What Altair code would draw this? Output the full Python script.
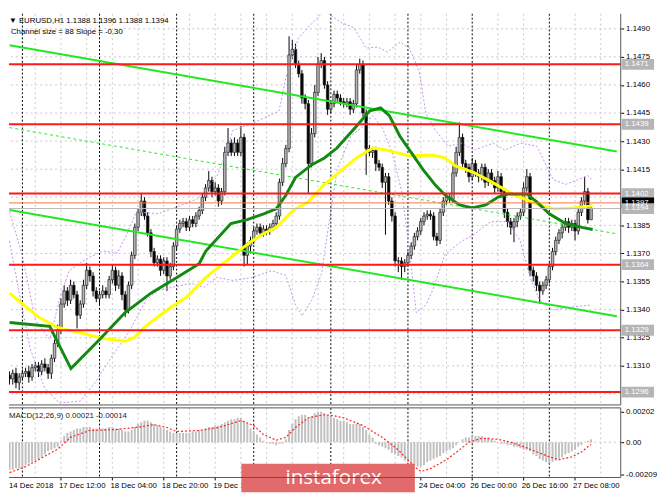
import altair as alt
import pandas as pd

FONT = "Liberation Sans"

# ---------------- price data (EURUSD H1, bar 0 = 14 Dec 20:00) ----------------
close = [
    1.1303, 1.1306, 1.1301, 1.1304, 1.1306, 1.1307, 1.1304, 1.1309, 1.1310, 1.1307,
    1.1311, 1.1309, 1.1306, 1.1314, 1.1322, 1.1329, 1.1343, 1.1350, 1.1345, 1.1353,
    1.1348, 1.1337, 1.1343, 1.1353, 1.1361, 1.1358, 1.1350, 1.1346, 1.1348, 1.1350,
    1.1348, 1.1356, 1.1361, 1.1353, 1.1358, 1.1348, 1.1340, 1.1353, 1.1369, 1.1384,
    1.1392, 1.1398, 1.1390, 1.1381, 1.1371, 1.1365, 1.1367, 1.1361, 1.1366, 1.1358,
    1.1363, 1.1374, 1.1383, 1.1386, 1.1387, 1.1384, 1.1388, 1.1386, 1.1390, 1.1393,
    1.1400, 1.1405, 1.1409, 1.1403, 1.1405, 1.1398, 1.1403, 1.1424, 1.1429, 1.1424,
    1.1429, 1.1424, 1.1432, 1.1369, 1.1374, 1.1377, 1.1382, 1.1384, 1.1381, 1.1383,
    1.1382, 1.1384, 1.1386, 1.1390, 1.1408, 1.1418, 1.1426, 1.1476, 1.1479, 1.1471,
    1.1466, 1.1453, 1.1450, 1.1418, 1.1434, 1.1456, 1.1471, 1.1473, 1.1460, 1.1447,
    1.1450, 1.1455, 1.1453, 1.1451, 1.1450, 1.1451, 1.1447, 1.1450, 1.1468, 1.1471,
    1.1445, 1.1426, 1.1424, 1.1425, 1.1418, 1.1416, 1.1408, 1.1411, 1.1398, 1.1390,
    1.1366, 1.1366, 1.1363, 1.1365, 1.1369, 1.1374, 1.1379, 1.1382, 1.1387, 1.1390,
    1.1391, 1.1390, 1.1379, 1.1377, 1.1392, 1.1398, 1.1400, 1.1399, 1.1413, 1.1424,
    1.1432, 1.1418, 1.1416, 1.1411, 1.1418, 1.1413, 1.1411, 1.1416, 1.1408, 1.1413,
    1.1409, 1.1405, 1.1411, 1.1403, 1.1392, 1.1387, 1.1384, 1.1387, 1.1390, 1.1392,
    1.1405, 1.1411, 1.1361, 1.1358, 1.1353, 1.1350, 1.1353, 1.1356, 1.1363, 1.1371,
    1.1377, 1.1381, 1.1384, 1.1387, 1.1384, 1.1386, 1.1382, 1.1392, 1.1398, 1.1403,
    1.1388, 1.1394,
]
first_open = 1.1305
# wick lengths above / below the candle body, in pips
wick_up = [
    2, 2, 3, 2, 2, 2, 3, 2, 2, 2,
    2, 3, 2, 2, 2, 3, 3, 3, 2, 3,
    2, 2, 2, 3, 4, 2, 2, 2, 2, 3,
    2, 2, 3, 2, 3, 2, 2, 2, 2, 2,
    2, 4, 2, 2, 2, 2, 2, 2, 2, 2,
    2, 2, 2, 2, 2, 2, 2, 2, 2, 2,
    2, 2, 5, 2, 3, 2, 2, 3, 8, 2,
    3, 2, 6, 2, 2, 2, 2, 2, 2, 2,
    2, 2, 2, 2, 2, 3, 2, 10, 5, 3,
    2, 2, 2, 2, 3, 4, 4, 4, 2, 2,
    2, 2, 2, 2, 2, 2, 2, 2, 3, 3,
    2, 2, 2, 2, 2, 2, 2, 2, 2, 2,
    2, 2, 2, 2, 2, 2, 2, 2, 2, 2,
    2, 2, 2, 2, 2, 2, 2, 2, 4, 3,
    8, 2, 2, 2, 3, 2, 2, 2, 2, 2,
    2, 2, 3, 2, 2, 2, 2, 2, 2, 2,
    3, 4, 2, 2, 2, 2, 2, 2, 2, 2,
    2, 2, 2, 2, 2, 2, 2, 3, 2, 8,
    2, 2,
]
wick_dn = [
    3, 3, 3, 4, 2, 2, 3, 2, 2, 3,
    2, 2, 3, 3, 2, 2, 2, 2, 3, 2,
    2, 7, 2, 2, 2, 3, 3, 2, 3, 2,
    2, 2, 2, 3, 2, 3, 4, 2, 2, 2,
    2, 2, 2, 2, 3, 2, 2, 3, 2, 8,
    2, 2, 2, 2, 2, 2, 2, 2, 2, 2,
    2, 2, 2, 3, 2, 3, 2, 2, 2, 2,
    2, 2, 2, 6, 5, 4, 2, 2, 2, 2,
    2, 2, 2, 2, 2, 2, 2, 2, 2, 2,
    2, 3, 3, 16, 2, 2, 2, 2, 2, 3,
    2, 2, 2, 2, 2, 2, 3, 2, 2, 2,
    2, 14, 2, 3, 4, 2, 3, 28, 2, 3,
    3, 6, 7, 3, 2, 2, 2, 2, 2, 2,
    2, 2, 2, 3, 2, 2, 2, 2, 2, 2,
    2, 3, 3, 3, 2, 2, 3, 2, 3, 2,
    2, 3, 2, 3, 3, 3, 4, 8, 3, 2,
    2, 2, 3, 3, 3, 7, 2, 2, 2, 2,
    2, 2, 3, 2, 3, 2, 5, 2, 2, 2,
    2, 0,
]

# moving averages (sampled vertices)
ma_green_bar = [0, 12.5, 19.1, 28.1, 35.9, 44.0, 52.1, 59.0, 61.1, 68.9, 74.0, 79.1, 83.0, 86.0,
                89.0, 94.1, 98.0, 101.9, 107.9, 112.1, 115.5, 118.2, 121.5, 124.5, 128.7, 132.6,
                135.6, 140.1, 144.0, 148.2, 152.1, 155.1, 161.1, 164.1, 168.0, 173.1, 178.2, 181.5]
ma_green_val = [1.13331, 1.13311, 1.13085, 1.13242, 1.13383, 1.13488, 1.13572, 1.13645, 1.13713,
                1.13860, 1.13881, 1.13912, 1.13938, 1.14011, 1.14106, 1.14174, 1.14210, 1.14263,
                1.14378, 1.14462, 1.14477, 1.14436, 1.14326, 1.14252, 1.14148, 1.14064, 1.14011,
                1.13959, 1.13943, 1.13959, 1.14001, 1.14017, 1.14017, 1.13975, 1.13912, 1.13860,
                1.13839, 1.13828]
ma_yellow_bar = [0, 8.9, 14.9, 29.0, 35.9, 38.9, 41.9, 49.1, 55.1, 61.1, 67.1, 71.0, 74.9, 79.1,
                 83.0, 88.1, 92.9, 98.0, 103.2, 107.9, 113.1, 117.6, 124.5, 131.7, 135.6, 138.6,
                 144.6, 149.7, 157.2, 165.0, 169.2, 175.2, 181.5]
ma_yellow_val = [1.13488, 1.13362, 1.13305, 1.13247, 1.13231, 1.13252, 1.13305, 1.13399, 1.13467,
                 1.13572, 1.13655, 1.13708, 1.13760, 1.13807, 1.13839, 1.13928, 1.13975, 1.14069,
                 1.14142, 1.14210, 1.14263, 1.14252, 1.14221, 1.14226, 1.14210, 1.14169, 1.14132,
                 1.14085, 1.14011, 1.13959, 1.13938, 1.13943, 1.13954]

# envelope bands (sampled vertices)
bb_up_bar = [0, 4, 8, 12.5, 15.5, 18.5, 23.9, 29, 33.5, 36.5, 39.5, 46.4, 53.6, 58.4, 64.4, 67.4,
             69.5, 75.5, 83.9, 86, 89.9, 94.1, 98, 103.2, 107.1, 111, 114.6, 117.6, 121.5, 124.5,
             127.5, 129.6, 132.6, 136.5, 140.7, 144.6, 150.6, 154.2, 159, 164.1, 169.2, 173.1,
             177, 180, 181.5]
bb_up_val = [1.13923, 1.13687, 1.13346, 1.13242, 1.13451, 1.13608, 1.13671, 1.13713, 1.13702,
             1.13802, 1.13922, 1.13912, 1.13959, 1.13991, 1.14106, 1.14237, 1.14357, 1.14394,
             1.14462, 1.14640, 1.14849, 1.14928, 1.14996, 1.14933, 1.14907, 1.14797, 1.14802,
             1.14776, 1.14828, 1.14797, 1.14671, 1.14446, 1.14357, 1.14273, 1.14289, 1.14252,
             1.14289, 1.14252, 1.14289, 1.14273, 1.14095, 1.14069, 1.14095, 1.14116, 1.14090]
bb_lo_bar = [0, 3.45, 6.46, 10.96, 15.47, 22.07, 26.88, 31.98, 37.09, 42.49, 46.4, 56.6, 60.5,
             64.4, 69.5, 75.5, 81.5, 86.0, 89.0, 91.1, 94.1, 97.1, 98.9, 101.95, 106.2, 110.05,
             113.1, 116.1, 119.1, 122.1, 124.5, 126.6, 129.6, 131.7, 135.6, 140.7, 144.6, 149.7,
             155.1, 159.0, 162.0, 165.0, 169.2, 175.2, 181.2]
bb_lo_val = [1.13765, 1.13451, 1.13190, 1.12980, 1.12901, 1.12912, 1.13017, 1.13153, 1.13278,
             1.13451, 1.13504, 1.13540, 1.13519, 1.13572, 1.13556, 1.13572, 1.13608, 1.13582,
             1.13425, 1.13367, 1.13451, 1.13593, 1.13802, 1.14148, 1.14326, 1.14378, 1.14436,
             1.14368, 1.14237, 1.14027, 1.13713, 1.13383, 1.13425, 1.13504, 1.13697, 1.13765,
             1.13802, 1.13870, 1.13870, 1.13765, 1.13572, 1.13451, 1.13399, 1.13415, 1.13425]

# regression channel (size 88 pips, slope -0.30)
channel_bar = [0, 189]
channel_upper = [1.14812, 1.14245]
channel_mid = [1.14372, 1.13805]
channel_lower = [1.13932, 1.13365]
channel_size = 88
channel_slope = -0.30

red_levels = [1.1471, 1.1439, 1.1402, 1.1364, 1.1329, 1.1296]
orange_level = 1.1397
bid_level = 1.1394

price_ticks = [1.1310, 1.1325, 1.1340, 1.1355, 1.1370, 1.1385, 1.1415, 1.1430, 1.1445,
               1.1460, 1.1475, 1.1490]
grid_prices = [1.1295, 1.1310, 1.1325, 1.1340, 1.1355, 1.1370, 1.1385, 1.1400, 1.1415,
               1.1430, 1.1445, 1.1460, 1.1475, 1.1490]
day_starts = [4, 28, 52, 76, 100, 124, 144, 168]
grid_bars = [8, 16, 24, 32, 40, 48, 56, 64, 72, 80, 88, 96, 104, 112, 120, 128, 136,
             152, 160, 176, 184]
time_bars = [0, 16, 32, 48, 64, 80, 96, 112, 128, 144, 160, 176]
time_labels = ["14 Dec 2018", "17 Dec 12:00", "18 Dec 04:00", "18 Dec 20:00", "19 Dec 12:00",
               "20 Dec 04:00", "20 Dec 20:00", "21 Dec 12:00", "24 Dec 04:00", "26 Dec 00:00",
               "26 Dec 16:00", "27 Dec 08:00"]

# MACD(12,26,9): main histogram (units of 0.0001) and signal line vertices
macd_hist = [
    -18, -18, -17, -17, -17, -15, -14, -13, -12, -11, -10, -8, -6, -5, -4, -3,
    1, 4, 6, 7, 8, 9, 9, 10, 10,
    10, 9, 9, 9, 9, 9, 10, 10, 9, 9, 8, 7, 7, 8, 10,
    12, 13, 14, 14, 13,
    12, 11, 10, 9, 8, 7, 6, 6,
    6, 6, 6, 6,
    7, 7, 8, 8, 9, 10, 10, 11, 11, 12, 13, 14, 15, 15,
    16, 16, 14,
    12, 9, 7, 5, 3, 1, 0,
    -1, -1, -2, -1, -1, 2,
    8, 12, 15, 17, 18, 18, 16, 17, 19, 20, 20, 19,
    18, 17, 16, 15, 14, 14, 13, 12, 12, 12, 12, 10,
    8, 5, 3, -1, -2, -3, -4, -5, -7, -8, -9, -10, -12, -13, -14, -15, -16,
    -16, -15, -13, -12, -11, -10, -9, -7, -6, -5, -4, -2, 0,
    2, 3, 3, 4, 4, 4, 4, 3, 3, 2, 1, 0,
    -1, -1, -2, -2, -3, -3, -4, -5, -5, -6, -8, -9, -11, -12, -13, -14,
    -13, -12, -11, -10, -8, -7, -6, -5, -3, -2, 0, 1, 2,
]
sig_bar = [0, 5, 9.5, 15, 19, 25, 33, 39, 45, 49, 52, 59, 65, 72, 76, 79, 83, 86, 89, 93, 98,
           101, 104, 110, 116, 121, 126, 128, 131, 136, 140, 143, 147, 152, 156, 162, 168, 171,
           175, 178, 181]
sig_val = [-0.00199, -0.00160, -0.00109, -0.00045, 0.00032, 0.00077, 0.00083, 0.00096, 0.00115,
           0.00096, 0.00070, 0.00077, 0.00096, 0.00141, 0.00109, 0.00051, 0.00013, 0.00032,
           0.00096, 0.00160, 0.00180, 0.00173, 0.00160, 0.00109, 0.00032, -0.00051, -0.00160,
           -0.00192, -0.00173, -0.00115, -0.00051, 0.0, 0.00026, 0.00019, 0.0, -0.00045,
           -0.00096, -0.00115, -0.00096, -0.00064, -0.00014]
macd_last = 0.00021
signal_last = -0.00014

# ---------------- tables ----------------
n = len(close)
bars = list(range(n))
opens = [first_open] + close[:-1]
highs = [max(o, c) + u / 10000 for o, c, u in zip(opens, close, wick_up)]
lows = [min(o, c) - d / 10000 for o, c, d in zip(opens, close, wick_dn)]
candles = pd.DataFrame({"bar": bars, "open": opens, "close": close, "high": highs, "low": lows})
candles["dir"] = ["up" if c >= o else "down" for o, c in zip(opens, close)]

W, H1, H2 = 624, 399, 71
xs = alt.Scale(domain=[1.35, 188.7], nice=False, zero=False)
ys = alt.Scale(domain=[1.12891, 1.14980], nice=False, zero=False)
ms = alt.Scale(domain=[-0.002312, 0.002248], nice=False, zero=False)
X = alt.X("bar:Q", scale=xs, axis=None)

AXY = alt.Axis(orient="right", values=price_ticks, format=".4f", labelFont=FONT, labelFontSize=8,
               labelColor="#000000", tickColor="#000000", tickSize=3, domain=False, grid=False,
               labelPadding=2, title=None)
AXM = alt.Axis(orient="right", values=[0.00202, 0, -0.00209], labelFont=FONT, labelFontSize=8,
               labelColor="#000000", tickColor="#000000", tickSize=3, domain=False, grid=False,
               labelPadding=2, title=None,
               labelExpr="datum.value == 0 ? '0.00' : (datum.value < 0 ? '-' + format(-datum.value, '.5f') : format(datum.value, '.5f'))")


def YP(field):
    return alt.Y(field, type="quantitative", scale=ys, axis=AXY)


def YM(field):
    return alt.Y(field, type="quantitative", scale=ms, axis=AXM)


def line_layer(bx, vals, color, width, dash=None):
    df = pd.DataFrame({"bar": bx, "v": vals})
    kw = dict(color=color, strokeWidth=width, clip=True)
    if dash:
        kw["strokeDash"] = dash
    return alt.Chart(df).mark_line(**kw).encode(x=X, y=YP("v"))


hgrid = alt.Chart(pd.DataFrame({"price": grid_prices})).mark_rule(
    color="#c8c8c8", strokeDash=[2, 3], strokeWidth=1).encode(y=YP("price"))
vgrid = alt.Chart(pd.DataFrame({"bar": grid_bars})).mark_rule(
    color="#c8c8c8", strokeDash=[2, 3], strokeWidth=1).encode(x=X)
dayline = alt.Chart(pd.DataFrame({"bar": day_starts})).mark_rule(
    color="#000000", strokeDash=[2, 2], strokeWidth=1).encode(x=X)

wicks = alt.Chart(candles).mark_rule(color="#000000", strokeWidth=1, clip=True).encode(
    x=X, y=YP("low"), y2="high:Q")
bodies = alt.Chart(candles).mark_bar(width=2.6, stroke="#222222", strokeWidth=0.7, clip=True).encode(
    x=X, y=YP("open"), y2="close:Q",
    color=alt.Color("dir:N", scale=alt.Scale(domain=["up", "down"], range=["#b5b5b5", "#000000"]),
                    legend=None))

bb_up = line_layer(bb_up_bar, bb_up_val, "#c58cf0", 1, [2, 2])
bb_lo = line_layer(bb_lo_bar, bb_lo_val, "#c58cf0", 1, [2, 2])
ch_up = line_layer(channel_bar, channel_upper, "#22e822", 2)
ch_mid = line_layer(channel_bar, channel_mid, "#22e822", 1, [3, 3])
ch_lo = line_layer(channel_bar, channel_lower, "#22e822", 2)
ma_y = line_layer(ma_yellow_bar, ma_yellow_val, "#ffff00", 3)
ma_g = line_layer(ma_green_bar, ma_green_val, "#128a12", 3)

red_rules = alt.Chart(pd.DataFrame({"price": red_levels})).mark_rule(
    color="#ff1a1a", strokeWidth=2).encode(y=YP("price"))
orange_rule = alt.Chart(pd.DataFrame({"price": [orange_level]})).mark_rule(
    color="#ff7040", strokeWidth=1).encode(y=YP("price"))
bid_rule = alt.Chart(pd.DataFrame({"price": [bid_level]})).mark_rule(
    color="#b8b8b8", strokeWidth=1).encode(y=YP("price"))

levels = pd.DataFrame({"price": red_levels + [orange_level, bid_level],
                       "kind": ["red"] * len(red_levels) + ["orange", "bid"]})
lev_box = alt.Chart(levels).mark_rect(yOffset=-5.5, y2Offset=5.5).encode(
    x=alt.value(W + 1), x2=alt.value(W + 34),
    y=YP("price"), y2="price:Q",
    color=alt.Color("kind:N", scale=alt.Scale(domain=["red", "orange", "bid"],
                                              range=["#ff1a1a", "#ff6a2a", "#000000"]),
                    legend=None))
lev_txt = alt.Chart(levels).mark_text(align="left", baseline="middle", font=FONT, fontSize=8,
                                      color="#ffffff").encode(
    x=alt.value(W + 4), y=YP("price"),
    text=alt.Text("price:Q", format=".4f"))

last = candles.iloc[-1]
header = f"▼ EURUSD,H1  {last['open']:.4f} {last['high']:.4f} {last['low']:.4f} {last['close']:.4f}"
sub = f"Channel size = {channel_size} Slope = {channel_slope:.2f}"
head = alt.Chart(pd.DataFrame({"t": [header, sub], "yy": [9, 21], "xx": [0, 2]})).mark_text(
    align="left", baseline="alphabetic", font=FONT, fontSize=8, color="#000000").encode(
    x=alt.X("xx:Q", scale=None), y=alt.Y("yy:Q", scale=None), text="t:N")

border_main = alt.Chart(pd.DataFrame({"k": [0]})).mark_rule(color="#555555", strokeWidth=1).encode(
    x=alt.value(W), y=alt.value(0), y2=alt.value(H1))
border_main_b = alt.Chart(pd.DataFrame({"k": [0]})).mark_rule(color="#555555", strokeWidth=1).encode(
    x=alt.value(0), x2=alt.value(W), y=alt.value(H1))

main = alt.layer(
    hgrid, vgrid, dayline, wicks, bodies, bb_up, bb_lo, ch_mid, ch_up, ch_lo, ma_y, ma_g,
    bid_rule, orange_rule, red_rules, lev_box, lev_txt, head, border_main, border_main_b
).properties(width=W, height=H1)

# ---------------- MACD panel ----------------
hist = pd.DataFrame({"bar": bars, "v": [h / 10000 for h in macd_hist]})
zero = alt.Chart(pd.DataFrame({"v": [0.0]})).mark_rule(
    color="#c8c8c8", strokeDash=[2, 3]).encode(y=YM("v"))
vgrid2 = alt.Chart(pd.DataFrame({"bar": grid_bars})).mark_rule(
    color="#c8c8c8", strokeDash=[2, 3], strokeWidth=1).encode(x=X)
dayline2 = alt.Chart(pd.DataFrame({"bar": day_starts})).mark_rule(
    color="#000000", strokeDash=[2, 2], strokeWidth=1).encode(x=X)
histc = alt.Chart(hist).mark_bar(width=2, color="#c0c0c0", clip=True).encode(
    x=X, y=YM("v"), y2=alt.datum(0))
sig = alt.Chart(pd.DataFrame({"bar": sig_bar, "v": sig_val})).mark_line(
    color="#ff2020", strokeDash=[2, 2], strokeWidth=1.2, clip=True).encode(
    x=X, y=YM("v"))
macd_title = f"MACD(12,26,9) {macd_last:.5f} {signal_last:.5f}"
mtxt = alt.Chart(pd.DataFrame({"t": [macd_title]})).mark_text(
    align="left", baseline="middle", font=FONT, fontSize=8, color="#222222").encode(
    x=alt.value(0), y=alt.value(8), text="t:N")

tl = pd.DataFrame({"bar": time_bars, "label": time_labels})
tl_first = tl.iloc[:1]
tl_rest = tl.iloc[1:]
tticks = alt.Chart(tl_rest).mark_rule(color="#000000").encode(
    x=X, y=alt.value(H2), y2=alt.value(H2 + 3))
ttext = alt.Chart(tl_rest).mark_text(align="left", baseline="middle", font=FONT, fontSize=8,
                                      dx=-2, color="#000000").encode(
    x=X, y=alt.value(H2 + 9), text="label:N")
ttext0 = alt.Chart(tl_first).mark_text(align="left", baseline="middle", font=FONT, fontSize=8,
                                        color="#000000").encode(
    x=alt.value(0), y=alt.value(H2 + 9), text="label:N")

wm_box = alt.Chart(pd.DataFrame({"k": [0]})).mark_rect(color="#e36a6a").encode(
    x=alt.value(237), x2=alt.value(414), y=alt.value(57), y2=alt.value(86))
wm_txt = alt.Chart(pd.DataFrame({"t": ["instaforex"]})).mark_text(
    align="left", baseline="middle", font="Open Sans", fontSize=21, color="#ffffff").encode(
    x=alt.value(282), y=alt.value(72), text="t:N")

border_m = alt.Chart(pd.DataFrame({"k": [0]})).mark_rule(color="#555555", strokeWidth=1).encode(
    x=alt.value(W), y=alt.value(0), y2=alt.value(H2))
border_m_t = alt.Chart(pd.DataFrame({"k": [0]})).mark_rule(color="#555555", strokeWidth=1).encode(
    x=alt.value(0), x2=alt.value(W), y=alt.value(0))
border_m_b = alt.Chart(pd.DataFrame({"k": [0]})).mark_rule(color="#555555", strokeWidth=1).encode(
    x=alt.value(0), x2=alt.value(W), y=alt.value(H2))

macd = alt.layer(
    zero, vgrid2, dayline2, histc, sig, mtxt, tticks, ttext, ttext0, wm_box, wm_txt,
    border_m, border_m_t, border_m_b
).properties(width=W, height=H2)

chart = alt.vconcat(main, macd, spacing=3, bounds="flush").properties(
    padding={"left": 0, "top": 0, "right": 0, "bottom": 0}, background="#ffffff"
).configure_view(stroke=None)

chart.save("out.html", embed_options={"renderer": "svg", "actions": False})
